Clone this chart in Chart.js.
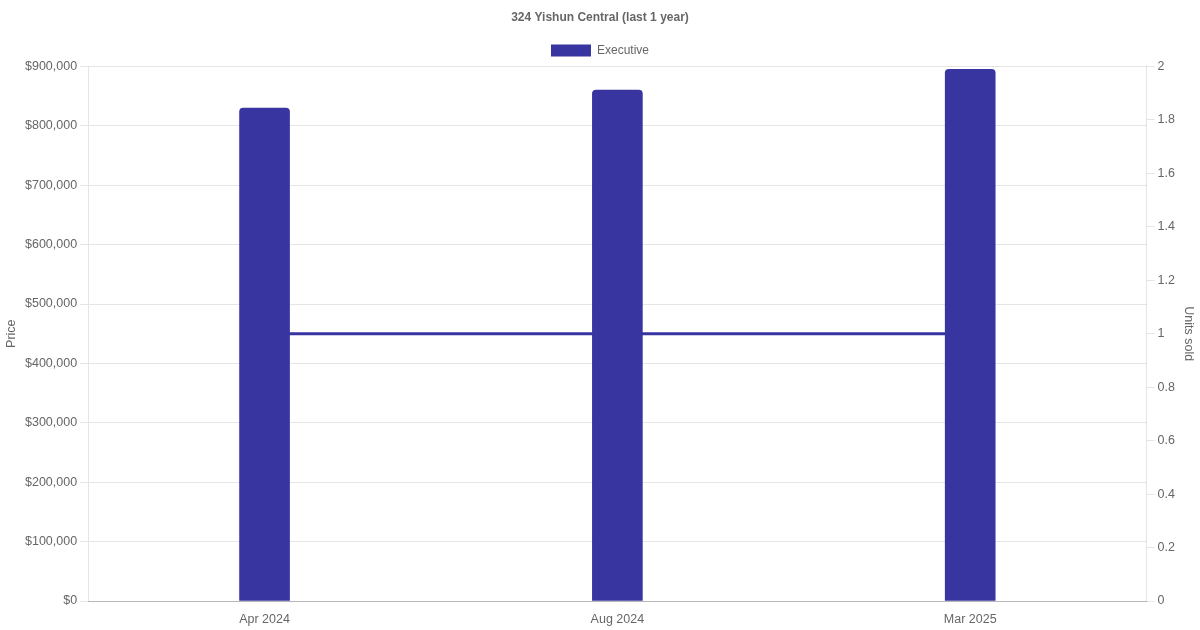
<!DOCTYPE html>
<html>
<head>
<meta charset="utf-8">
<script src="https://cdn.jsdelivr.net/npm/chart.js@4/dist/chart.umd.min.js"></script>
<style>
  html, body { margin: 0; padding: 0; background: #fff; }
  #wrap { width: 1200px; height: 630px; }
</style>
</head>
<body>
<div id="wrap"><canvas id="c"></canvas></div>
<script>
const categories = ["Apr 2024", "Aug 2024", "Mar 2025"];
const prices = [830000, 860000, 895000];
const unitsSold = [1, 1, 1];
const chartTitle = "324 Yishun Central (last 1 year)";
const barLabel = "Executive";
const lineLabel = "Units sold";
const leftAxisTitle = "Price";
const rightAxisTitle = "Units sold";

const mainColor = "rgb(57, 53, 160)";
const scaleFont = { size: 12.5 };

Chart.defaults.font.family = "'Liberation Sans', Arial, sans-serif";
Chart.defaults.font.size = 12;
Chart.defaults.color = "#666";

new Chart(document.getElementById("c"), {
  data: {
    labels: categories,
    datasets: [
      {
        type: "bar",
        label: barLabel,
        data: prices,
        yAxisID: "y",
        backgroundColor: mainColor,
        borderColor: mainColor,
        borderWidth: 0,
        borderRadius: 4,
        borderSkipped: "bottom",
        barThickness: 50
      },
      {
        type: "line",
        label: lineLabel,
        data: unitsSold,
        yAxisID: "y1",
        borderColor: mainColor,
        backgroundColor: mainColor,
        borderWidth: 3,
        pointRadius: 0,
        fill: false,
        tension: 0
      }
    ]
  },
  options: {
    responsive: true,
    maintainAspectRatio: false,
    animation: false,
    plugins: {
      title: {
        display: true,
        text: chartTitle,
        font: { size: 12, weight: "bold" },
        color: "#666"
      },
      legend: {
        display: true,
        labels: {
          boxWidth: 40,
          boxHeight: 12,
          filter: (item) => item.text === barLabel
        }
      },
      tooltip: { enabled: false }
    },
    scales: {
      x: {
        grid: { display: false, drawTicks: true, tickLength: 8 },
        border: { display: true, color: "rgba(0,0,0,0.2)" },
        ticks: { padding: 3, font: scaleFont }
      },
      y: {
        type: "linear",
        position: "left",
        min: 0,
        max: 900000,
        ticks: {
          stepSize: 100000,
          padding: 3,
          font: scaleFont,
          callback: (v) => "$" + Number(v).toLocaleString("en-US")
        },
        grid: { color: "rgba(0,0,0,0.1)", tickLength: 8 },
        title: { display: true, text: leftAxisTitle, font: scaleFont, padding: { top: 4, bottom: 3 } }
      },
      y1: {
        type: "linear",
        position: "right",
        min: 0,
        max: 2,
        ticks: {
          stepSize: 0.2,
          padding: 3,
          font: scaleFont,
          callback: (v) => String(Number(Number(v).toFixed(1)))
        },
        grid: { drawOnChartArea: false, color: "rgba(0,0,0,0.1)", tickLength: 8 },
        title: { display: true, text: rightAxisTitle, font: scaleFont, padding: { top: 4, bottom: 3 } }
      }
    }
  }
});
</script>
</body>
</html>
